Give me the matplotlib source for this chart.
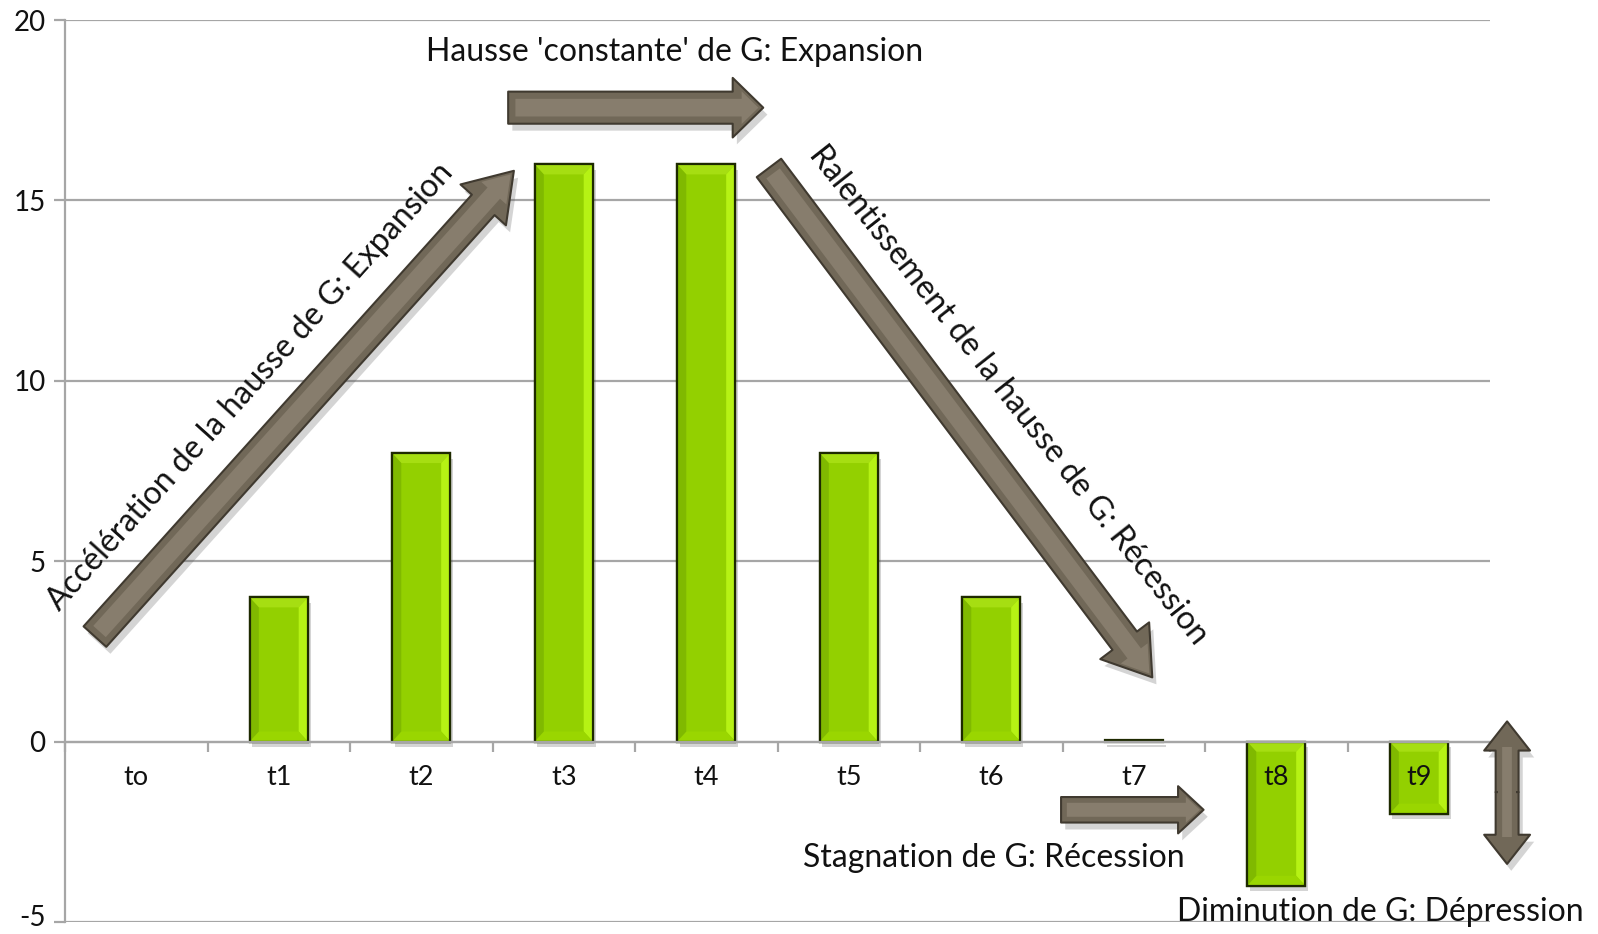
import matplotlib
matplotlib.use("Agg")
import matplotlib.pyplot as plt
from matplotlib.patches import FancyArrowPatch, Polygon
from matplotlib.transforms import ScaledTranslation
import matplotlib.patheffects as pe

plt.rcParams['font.family'] = ['Lato', 'DejaVu Sans']

categories = ['to', 't1', 't2', 't3', 't4', 't5', 't6', 't7', 't8', 't9']
values = [0, 4, 8, 16, 16, 8, 4, 0.05, -4, -2]
yticks = [-5, 0, 5, 10, 15, 20]

fig = plt.figure(figsize=(15.98, 9.34), dpi=100)
ax = fig.add_axes([65/1598, 1-922/934, (1490-65)/1598, (922-20)/934])

x = list(range(len(categories)))
ax.set_xlim(-0.5, len(categories)-0.5)
ax.set_ylim(-5, 20)

for yv in yticks:
    ax.axhline(yv, color='#a6a6a6', lw=1.6, zorder=0.5)

shadow = [pe.SimplePatchShadow(offset=(2, -4), alpha=0.25, shadow_rgbFace='#555555'), pe.Normal()]
bars = ax.bar(x, values, width=0.41, color='#93d000', edgecolor='#1e2a00', linewidth=1.6, zorder=2,
              path_effects=shadow)

# bevel effect
bx, by = 0.065, 0.28
for b in bars:
    x0, w = b.get_x(), b.get_width()
    y0, h = b.get_y(), b.get_height()
    if h == 0:
        b.set_visible(False)
        continue
    if abs(h) < 0.5:
        continue
    y1 = y0 + h
    lo, hi = min(y0, y1), max(y0, y1)
    x1 = x0 + w
    ix0, ix1 = x0 + bx, x1 - bx
    iy0, iy1 = lo + by, hi - by
    faces = [
        ([(x0, hi), (x1, hi), (ix1, iy1), (ix0, iy1)], '#a6de12'),   # top
        ([(x1, hi), (x1, lo), (ix1, iy0), (ix1, iy1)], '#b6f214'),   # right
        ([(x0, lo), (x1, lo), (ix1, iy0), (ix0, iy0)], '#9ad600'),   # bottom
        ([(x0, hi), (ix0, iy1), (ix0, iy0), (x0, lo)], '#80b900'),   # left
    ]
    for pts, c in faces:
        ax.add_patch(Polygon(pts, closed=True, facecolor=c, edgecolor='none', zorder=2.1))
    ax.add_patch(Polygon([(x0, lo), (x1, lo), (x1, hi), (x0, hi)], closed=True, facecolor='none',
                         edgecolor='#1e2a00', lw=1.6, zorder=2.2))

# axes styling
for s in ['top', 'right']:
    ax.spines[s].set_visible(False)
ax.spines['bottom'].set_position(('data', 0))
for s in ['left', 'bottom']:
    ax.spines[s].set_color('#a6a6a6')
    ax.spines[s].set_linewidth(1.6)
ax.set_axisbelow(False)

ax.set_xticks(x)
ax.set_xticklabels(categories, fontsize=19.5, color='#111111')
ax.set_xticks([i - 0.5 for i in range(len(categories) + 1)], minor=True)
ax.tick_params(axis='x', which='major', length=0, pad=17)
ax.tick_params(axis='x', which='minor', length=7, width=1.6, color='#a6a6a6', direction='out')
ax.set_yticks(yticks)
ax.set_yticklabels([str(v) for v in yticks], fontsize=20, color='#111111')
ax.tick_params(axis='y', length=8, width=1.6, color='#a6a6a6', pad=6)
lbl = ax.get_yticklabels()[0]
lbl.set_transform(lbl.get_transform() + ScaledTranslation(0, 5/72, fig.dpi_scale_trans))

arrow_fc = '#716858'
arrow_in = '#877d6d'
arrow_ec = '#403a30'
ashadow = [pe.SimplePatchShadow(offset=(3, -5), alpha=0.25, shadow_rgbFace='#555555'), pe.Normal()]

def arrow(p0, p1, hl, hw, tw, ms, inner=True):
    style = f'simple,head_length={hl},head_width={hw},tail_width={tw}'
    a = FancyArrowPatch(p0, p1, arrowstyle=style, mutation_scale=ms, facecolor=arrow_fc,
                        edgecolor=arrow_ec, lw=1.5, zorder=4, clip_on=False, path_effects=ashadow,
                        shrinkA=0, shrinkB=0)
    ax.add_patch(a)
    if inner:
        ms2 = ms * 0.55
        b = FancyArrowPatch(p0, p1, arrowstyle=style, mutation_scale=ms2, facecolor=arrow_in,
                            edgecolor='none', zorder=4.6, clip_on=False,
                            shrinkA=(ms - ms2) * tw / 2, shrinkB=(ms - ms2) * 0.35)
        ax.add_patch(b)

arrow((-0.29, 2.91), (2.65, 15.82), 1.5, 2.0, 1.0, 22)
arrow((2.61, 17.57), (4.40, 17.57), 1.0, 1.95, 1.05, 22)
arrow((4.44, 15.90), (7.13, 1.78), 1.5, 2.0, 1.0, 22)
arrow((6.49, -1.89), (7.49, -1.89), 1.08, 2.0, 1.08, 17)
arrow((9.62, -1.4), (9.62, 0.56), 1.4, 2.2, 1.1, 15, inner=False)
arrow((9.62, -1.4), (9.62, -3.39), 1.4, 2.2, 1.1, 15, inner=False)
ax.plot([9.62, 9.62], [-1.6, -1.2], color=arrow_fc, lw=13, solid_capstyle='butt', zorder=4.5,
        clip_on=False)
ax.plot([9.62, 9.62], [-0.15, -2.65], color=arrow_in, lw=7, solid_capstyle='butt', zorder=4.6,
        clip_on=False)

tkw = dict(fontsize=23, color='#111111', ha='center', va='center', zorder=5, clip_on=False)
ax.text(3.78, 19.10, "Hausse 'constante' de G: Expansion", **tkw)
ax.text(0.80, 9.83, "Accélération de la hausse de G: Expansion", rotation=48, rotation_mode='anchor', **tkw)
ax.text(6.12, 9.60, "Ralentissement de la hausse de G: Récession", rotation=-51.8, rotation_mode='anchor', **tkw)
ax.text(6.02, -3.22, "Stagnation de G: Récession", **tkw)
ax.text(8.73, -4.72, "Diminution de G: Dépression", **tkw)

fig.savefig('out.png', dpi=100)
